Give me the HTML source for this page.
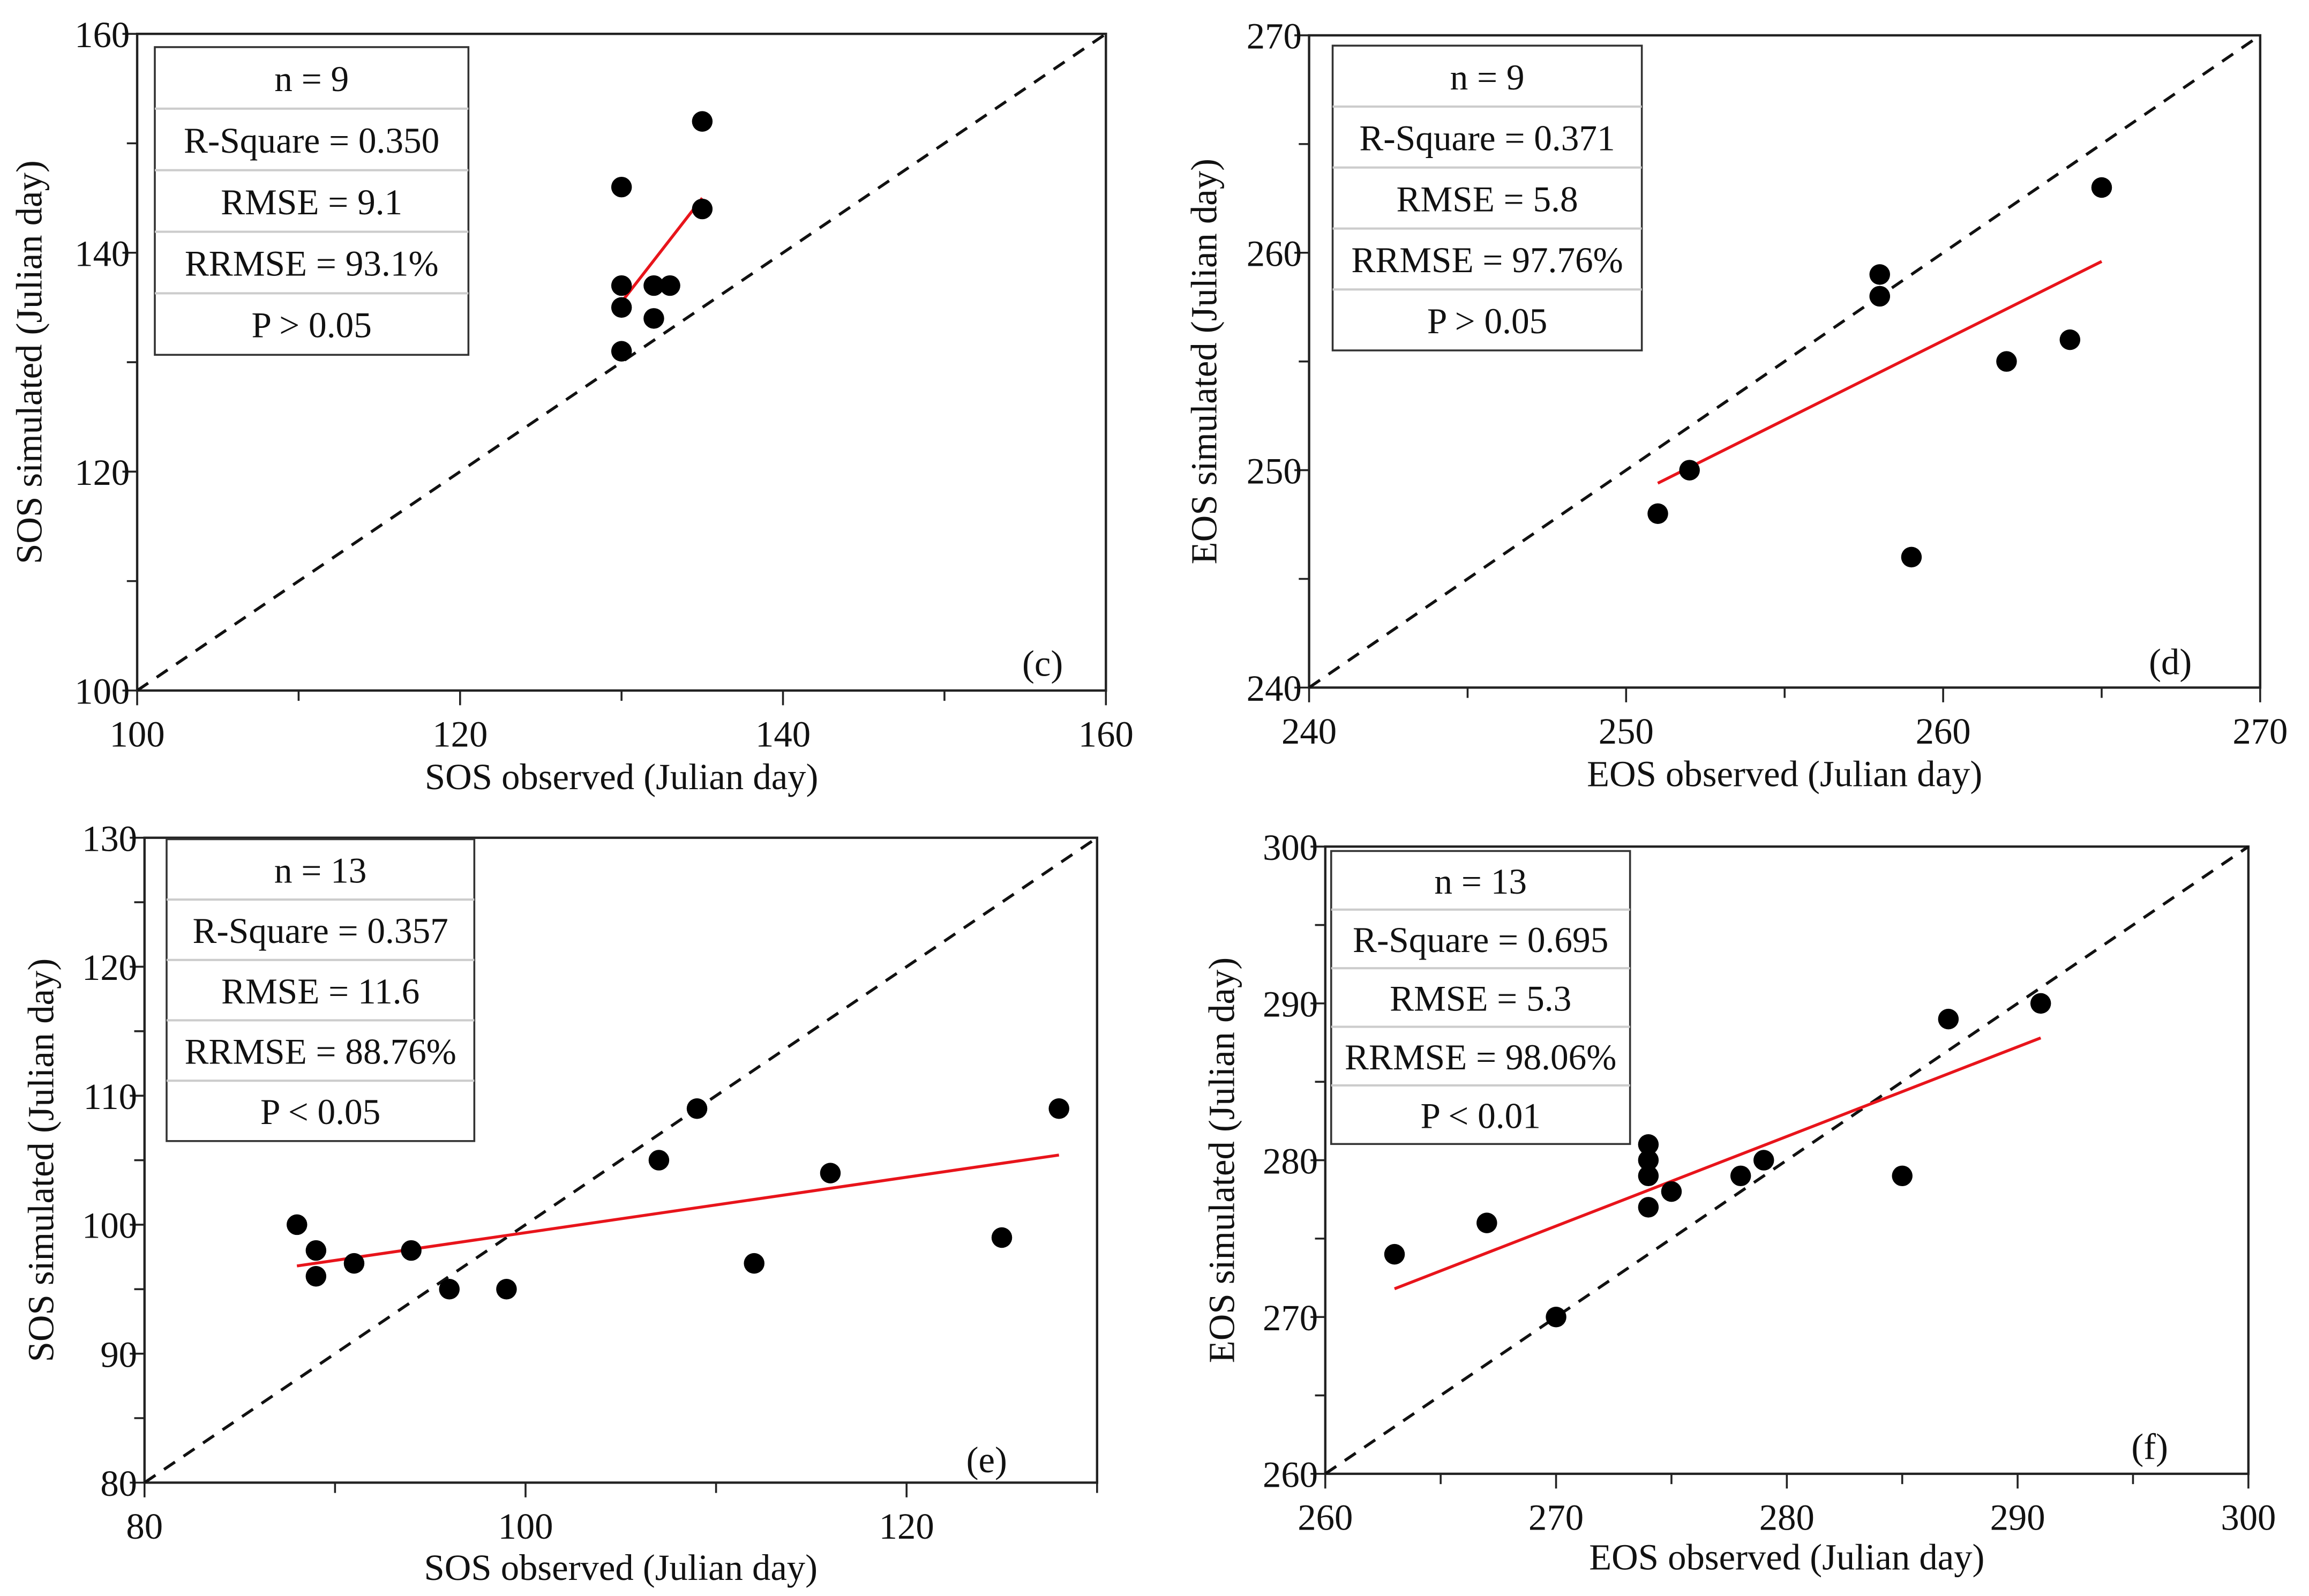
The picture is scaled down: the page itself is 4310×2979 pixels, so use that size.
<!DOCTYPE html>
<html><head><meta charset="utf-8"><style>
html,body{margin:0;padding:0;background:#fff;}
svg{display:block;}
text{font-family:"Liberation Serif",serif;fill:#111;}
</style></head><body>
<svg id="fig" width="4310" height="2979" viewBox="0 0 1568 1084" xmlns="http://www.w3.org/2000/svg"></svg>
<script>
// Panel (c)
const cObsX = [130,135,135,130,132,133,130,132,130];
const cSimY = [146,152,144,137,137,137,135,134,131];
const cFit = [[130,135.5],[135,145]];
const cStats = ["n = 9","R-Square = 0.350","RMSE = 9.1","RRMSE = 93.1%","P > 0.05"];
const cXTicks = [100,120,140,160];
const cYTicks = [100,120,140,160];
// Panel (d)
const dObsX = [258,258,265,262,264,252,251,259,258];
const dSimY = [259,258,263,255,256,250,248,246,258];
const dFit = [[251,249.4],[265,259.6]];
const dStats = ["n = 9","R-Square = 0.371","RMSE = 5.8","RRMSE = 97.76%","P > 0.05"];
const dXTicks = [240,250,260,270];
const dYTicks = [240,250,260,270];
// Panel (e)
const eObsX = [88,89,89,91,94,96,99,107,109,112,116,125,128];
const eSimY = [100,98,96,97,98,95,95,105,109,97,104,99,109];
const eFit = [[88,96.8],[128,105.4]];
const eStats = ["n = 13","R-Square = 0.357","RMSE = 11.6","RRMSE = 88.76%","P < 0.05"];
const eXTicks = [80,100,120];
const eYTicks = [80,90,100,110,120,130];
// Panel (f)
const fObsX = [263,267,270,274,274,274,274,275,278,279,285,287,291];
const fSimY = [274,276,270,281,280,279,277,278,279,280,279,289,290];
const fFit = [[263,271.8],[291,287.8]];
const fStats = ["n = 13","R-Square = 0.695","RMSE = 5.3","RRMSE = 98.06%","P < 0.01"];
const fXTicks = [260,270,280,290,300];
const fYTicks = [260,270,280,290,300];

const NS="http://www.w3.org/2000/svg";
const svg=document.getElementById('fig');
function mk(tag,attrs,parent){const e=document.createElementNS(NS,tag);for(const k in attrs)e.setAttribute(k,attrs[k]);(parent||svg).appendChild(e);return e;}

function panel(p){
  const g=mk('g',{});
  
  
  const sx=v=>p.x0+(v-p.xmin)/(p.xmax-p.xmin)*(p.x1-p.x0);
  const sy=v=>p.y0-(v-p.ymin)/(p.ymax-p.ymin)*(p.y0-p.y1);
  const fr=mk('rect',{x:p.x0,y:p.y1,width:p.x1-p.x0,height:p.y0-p.y1,fill:'none',stroke:'#222','stroke-width':1.6},g);
  
  
  const lo=Math.max(p.xmin,p.ymin), hi=Math.min(p.xmax,p.ymax);
  const d=mk('line',{x1:sx(lo),y1:sy(lo),x2:sx(hi),y2:sy(hi),stroke:'#111','stroke-width':2,'stroke-dasharray':'9,7'},g);
  
  
  for(let v=p.xmin;v<=p.xmax+1e-6;v+=p.xminor){
    const major=Math.abs(v/p.xmajor-Math.round(v/p.xmajor))<1e-6;
    mk('line',{x1:sx(v),y1:p.y0,x2:sx(v),y2:p.y0+(major?10:7),stroke:'#222','stroke-width':1.3},g);
  }
  p.xt.forEach(v=>{const t=mk('text',{x:sx(v),y:p.y0+38,'text-anchor':'middle','font-size':25},g);t.textContent=v;
    });
  for(let v=p.ymin;v<=p.ymax+1e-6;v+=p.yminor){
    const major=Math.abs(v/p.ymajor-Math.round(v/p.ymajor))<1e-6;
    mk('line',{x1:p.x0,y1:sy(v),x2:p.x0-(major?10:7),y2:sy(v),stroke:'#222','stroke-width':1.3},g);
  }
  p.yt.forEach(v=>{const t=mk('text',{x:p.x0-5,y:sy(v)+9,'text-anchor':'end','font-size':25},g);t.textContent=v;
    });
  const xt=mk('text',{x:(p.x0+p.x1)/2,y:p.xty,'text-anchor':'middle','font-size':25},g);xt.textContent=p.xtitle;
  
  const yt=mk('text',{x:0,y:0,'text-anchor':'middle','font-size':25,transform:`translate(${p.ytx},${(p.y0+p.y1)/2}) rotate(-90)`},g);yt.textContent=p.ytitle;
  
  const b=p.box, rh=(b[3]-b[1])/5;
  const bx=mk('rect',{x:b[0],y:b[1],width:b[2]-b[0],height:b[3]-b[1],fill:'#fff',stroke:'#333','stroke-width':1.3},g);
  
  p.stats.forEach((s,i)=>{
    if(i>0)mk('line',{x1:b[0],y1:b[1]+rh*i,x2:b[2],y2:b[1]+rh*i,stroke:'#ccc','stroke-width':1.5},g);
    const t=mk('text',{x:(b[0]+b[2])/2,y:b[1]+rh*i+rh/2+9,'text-anchor':'middle','font-size':24.5},g);t.textContent=s;
    
  });
  const fl=mk('line',{x1:sx(p.fit[0][0]),y1:sy(p.fit[0][1]),x2:sx(p.fit[1][0]),y2:sy(p.fit[1][1]),stroke:'#e8141b','stroke-width':2},g);
  
  p.xs.forEach((x,i)=>{
    const c=mk('circle',{cx:sx(x),cy:sy(p.ys[i]),r:7,fill:'#000'},g);
    
    
  });
  const lab=mk('text',{x:p.lab[0],y:p.lab[1],'text-anchor':'middle','font-size':25},g);lab.textContent=p.label;
  
}

panel({id:'c',x0:93,x1:751,y0:469,y1:23,xmin:100,xmax:160,ymin:100,ymax:160,xmajor:20,xminor:10,ymajor:20,yminor:10,
  xt:cXTicks,yt:cYTicks,xs:cObsX,ys:cSimY,fit:cFit,stats:cStats,box:[105,32,318,241],
  xtitle:'SOS observed (Julian day)',ytitle:'SOS simulated (Julian day)',xty:536,ytx:28,label:'(c)',lab:[708,459]});
panel({id:'d',x0:889,x1:1535,y0:467,y1:24,xmin:240,xmax:270,ymin:240,ymax:270,xmajor:10,xminor:5,ymajor:10,yminor:5,
  xt:dXTicks,yt:dYTicks,xs:dObsX,ys:dSimY,fit:dFit,stats:dStats,box:[905,31,1115,238],
  xtitle:'EOS observed (Julian day)',ytitle:'EOS simulated (Julian day)',xty:534,ytx:826,label:'(d)',lab:[1474,458]});
panel({id:'e',x0:98,x1:745,y0:1007,y1:569,xmin:80,xmax:130,ymin:80,ymax:130,xmajor:20,xminor:10,ymajor:10,yminor:5,
  xt:eXTicks,yt:eYTicks,xs:eObsX,ys:eSimY,fit:eFit,stats:eStats,box:[113,570,322,775],
  xtitle:'SOS observed (Julian day)',ytitle:'SOS simulated (Julian day)',xty:1073,ytx:36,label:'(e)',lab:[670,1000]});
panel({id:'f',x0:900,x1:1527,y0:1001,y1:575,xmin:260,xmax:300,ymin:260,ymax:300,xmajor:10,xminor:5,ymajor:10,yminor:5,
  xt:fXTicks,yt:fYTicks,xs:fObsX,ys:fSimY,fit:fFit,stats:fStats,box:[904,578,1107,777],
  xtitle:'EOS observed (Julian day)',ytitle:'EOS simulated (Julian day)',xty:1066,ytx:838,label:'(f)',lab:[1460,991]});
</script>
</body></html>
